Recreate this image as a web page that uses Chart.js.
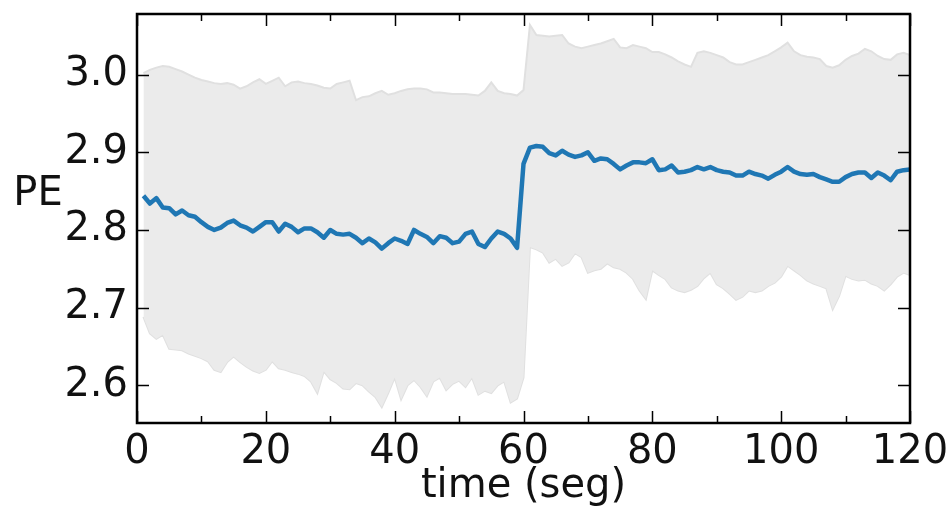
<!DOCTYPE html>
<html>
<head>
<meta charset="utf-8">
<script src="https://cdn.jsdelivr.net/npm/chart.js@4.4.1/dist/chart.umd.min.js"></script>
<style>
  html, body { margin: 0; padding: 0; background: #fff; }
  #wrap { width: 949px; height: 511px; }
</style>
</head>
<body>
<div id="wrap"><canvas id="grafico" width="949" height="511"></canvas></div>
<script>
// tempo (seg)
const tempo = [
  1, 2, 3, 4, 5, 6, 7, 8, 9, 10, 11, 12, 13, 14, 15, 16, 17, 18, 19, 20,
  21, 22, 23, 24, 25, 26, 27, 28, 29, 30, 31, 32, 33, 34, 35, 36, 37, 38, 39, 40,
  41, 42, 43, 44, 45, 46, 47, 48, 49, 50, 51, 52, 53, 54, 55, 56, 57, 58, 59, 60,
  61, 62, 63, 64, 65, 66, 67, 68, 69, 70, 71, 72, 73, 74, 75, 76, 77, 78, 79, 80,
  81, 82, 83, 84, 85, 86, 87, 88, 89, 90, 91, 92, 93, 94, 95, 96, 97, 98, 99, 100,
  101, 102, 103, 104, 105, 106, 107, 108, 109, 110, 111, 112, 113, 114, 115, 116, 117, 118, 119, 120
];

// PE medio
const peMedia = [
  2.844, 2.834, 2.841, 2.829, 2.828, 2.820, 2.825, 2.819, 2.817, 2.810,
  2.804, 2.800, 2.803, 2.809, 2.812, 2.806, 2.803, 2.798, 2.804, 2.810,
  2.810, 2.798, 2.808, 2.804, 2.797, 2.802, 2.802, 2.797, 2.790, 2.800,
  2.795, 2.794, 2.795, 2.790, 2.783, 2.789, 2.784, 2.776, 2.783, 2.789,
  2.786, 2.782, 2.800, 2.795, 2.791, 2.783, 2.792, 2.790, 2.783, 2.785,
  2.795, 2.798, 2.782, 2.778, 2.789, 2.798, 2.795, 2.789, 2.777, 2.885,
  2.906, 2.908, 2.907, 2.899, 2.896, 2.902, 2.897, 2.894, 2.896, 2.900,
  2.889, 2.892, 2.891, 2.885, 2.878, 2.883, 2.887, 2.887, 2.886, 2.891,
  2.877, 2.878, 2.883, 2.874, 2.875, 2.877, 2.881, 2.878, 2.881, 2.877,
  2.875, 2.874, 2.870, 2.870, 2.875, 2.872, 2.870, 2.866, 2.871, 2.875,
  2.881, 2.875, 2.872, 2.871, 2.872, 2.868, 2.865, 2.862, 2.862, 2.868,
  2.872, 2.874, 2.874, 2.867, 2.874, 2.870, 2.864, 2.875, 2.877, 2.878
];

// limite superior da faixa
const peSuperior = [
  3.002, 3.006, 3.009, 3.011, 3.010, 3.007, 3.004, 3.000, 2.996, 2.993,
  2.991, 2.989, 2.988, 2.989, 2.987, 2.982, 2.985, 2.990, 2.994, 2.988,
  2.992, 2.996, 2.985, 2.990, 2.991, 2.989, 2.988, 2.986, 2.983, 2.982,
  2.988, 2.990, 2.992, 2.967, 2.971, 2.972, 2.976, 2.979, 2.974, 2.976,
  2.979, 2.981, 2.982, 2.982, 2.981, 2.977, 2.977, 2.976, 2.975, 2.975,
  2.975, 2.974, 2.973, 2.979, 2.990, 2.979, 2.976, 2.975, 2.973, 2.980,
  3.064, 3.051, 3.050, 3.049, 3.050, 3.051, 3.040, 3.036, 3.034, 3.036,
  3.038, 3.040, 3.043, 3.046, 3.035, 3.034, 3.038, 3.036, 3.034, 3.029,
  3.029, 3.026, 3.022, 3.017, 3.013, 3.010, 3.028, 3.030, 3.028, 3.025,
  3.022, 3.016, 3.013, 3.013, 3.016, 3.019, 3.022, 3.025, 3.030, 3.035,
  3.041, 3.030, 3.025, 3.023, 3.022, 3.020, 3.011, 3.009, 3.012, 3.019,
  3.024, 3.027, 3.033, 3.030, 3.024, 3.020, 3.019, 3.026, 3.028, 3.025
];

// limite inferior da faixa
const peInferior = [
  2.688, 2.667, 2.660, 2.665, 2.647, 2.646, 2.645, 2.641, 2.638, 2.635,
  2.631, 2.620, 2.617, 2.630, 2.637, 2.630, 2.624, 2.619, 2.616, 2.620,
  2.631, 2.622, 2.620, 2.617, 2.615, 2.612, 2.605, 2.590, 2.618, 2.608,
  2.603, 2.596, 2.595, 2.603, 2.600, 2.592, 2.585, 2.572, 2.590, 2.610,
  2.582, 2.600, 2.607, 2.598, 2.586, 2.605, 2.610, 2.594, 2.602, 2.606,
  2.598, 2.610, 2.588, 2.593, 2.590, 2.600, 2.605, 2.578, 2.583, 2.610,
  2.778, 2.775, 2.771, 2.758, 2.763, 2.754, 2.758, 2.770, 2.765, 2.745,
  2.748, 2.750, 2.757, 2.752, 2.750, 2.745, 2.737, 2.722, 2.711, 2.748,
  2.742, 2.737, 2.726, 2.722, 2.720, 2.723, 2.728, 2.738, 2.745, 2.730,
  2.725, 2.718, 2.710, 2.714, 2.722, 2.720, 2.722, 2.728, 2.732, 2.740,
  2.754, 2.748, 2.742, 2.735, 2.731, 2.728, 2.725, 2.698, 2.715, 2.741,
  2.737, 2.735, 2.736, 2.731, 2.728, 2.722, 2.730, 2.740, 2.745, 2.742
];

const ticksX = [0, 20, 40, 60, 80, 100, 120];
const ticksXMenores = [10, 30, 50, 70, 90, 110];
const ticksY = [2.6, 2.7, 2.8, 2.9, 3.0];

const toPts = arr => arr.map((v, i) => ({ x: tempo[i], y: v }));

Chart.defaults.font.family = "'DejaVu Sans', sans-serif";
Chart.defaults.color = "#111";

// moldura + ticks para dentro (estilo matplotlib) e rotulo PE
const molduraPlugin = {
  id: "moldura",
  afterDatasetsDraw(chart) {
    const { ctx, chartArea: a, scales } = chart;
    const sx = scales.x, sy = scales.y;
    ctx.save();
    ctx.strokeStyle = "#000";
    ctx.lineWidth = 1.5;
    ctx.beginPath();
    ticksX.forEach(t => {
      const px = Math.round(sx.getPixelForValue(t)) + 0.5;
      ctx.moveTo(px, a.bottom); ctx.lineTo(px, a.bottom - 12);
      ctx.moveTo(px, a.top); ctx.lineTo(px, a.top + 12);
    });
    ticksXMenores.forEach(t => {
      const px = Math.round(sx.getPixelForValue(t)) + 0.5;
      ctx.moveTo(px, a.bottom); ctx.lineTo(px, a.bottom - 7);
      ctx.moveTo(px, a.top); ctx.lineTo(px, a.top + 7);
    });
    ticksY.forEach(t => {
      const py = Math.round(sy.getPixelForValue(t)) + 0.5;
      ctx.moveTo(a.left, py); ctx.lineTo(a.left + 12, py);
      ctx.moveTo(a.right, py); ctx.lineTo(a.right - 12, py);
    });
    ctx.stroke();
    ctx.lineWidth = 2.5;
    ctx.strokeRect(a.left, a.top, a.right - a.left, a.bottom - a.top);

    ctx.fillStyle = "#111";
    ctx.font = "40px 'DejaVu Sans', sans-serif";
    ctx.textAlign = "center";
    ctx.textBaseline = "middle";
    ctx.fillText("PE", 38, 195);
    ctx.restore();
  }
};

const chart = new Chart(document.getElementById("grafico").getContext("2d"), {
  type: "line",
  data: {
    datasets: [
      {
        label: "media",
        data: toPts(peMedia),
        borderColor: "#1f77b4",
        borderWidth: 4.5,
        borderJoinStyle: "round",
        pointRadius: 0,
        tension: 0,
        fill: false,
        order: 0
      },
      {
        label: "inferior",
        data: toPts(peInferior),
        borderColor: "#e0e0e0",
        borderWidth: 2,
        pointRadius: 0,
        tension: 0,
        fill: false,
        order: 2
      },
      {
        label: "superior",
        data: toPts(peSuperior),
        borderColor: "#e0e0e0",
        borderWidth: 2,
        backgroundColor: "#ebebeb",
        pointRadius: 0,
        tension: 0,
        fill: 1,
        order: 1
      }
    ]
  },
  options: {
    responsive: false,
    animation: false,
    events: [],
    layout: { padding: { left: 0, right: 39, top: 14, bottom: 0 } },
    plugins: {
      legend: { display: false },
      tooltip: { enabled: false }
    },
    scales: {
      x: {
        type: "linear",
        min: 0,
        max: 120,
        border: { display: false },
        grid: { display: false, drawTicks: false },
        afterBuildTicks: s => { s.ticks = ticksX.map(v => ({ value: v })); },
        afterFit: s => { s.height = 88; s.paddingLeft = 0; s.paddingRight = 0; },
        ticks: {
          padding: 6,
          maxRotation: 0,
          font: { size: 40 },
          color: "#111",
          callback: v => String(v)
        },
        title: {
          display: true,
          text: "time (seg)",
          font: { size: 40 },
          color: "#111",
          padding: { top: 0, bottom: 0 }
        }
      },
      y: {
        type: "linear",
        min: 2.5515,
        max: 3.078,
        border: { display: false },
        grid: { display: false, drawTicks: false },
        afterBuildTicks: s => { s.ticks = ticksY.map(v => ({ value: v })); },
        afterFit: s => { s.width = 137; s.paddingTop = 0; s.paddingBottom = 0; },
        ticks: {
          padding: 9,
          font: { size: 40 },
          color: "#111",
          callback: v => Number(v).toFixed(1)
        }
      }
    }
  },
  plugins: [molduraPlugin]
});
</script>
</body>
</html>
